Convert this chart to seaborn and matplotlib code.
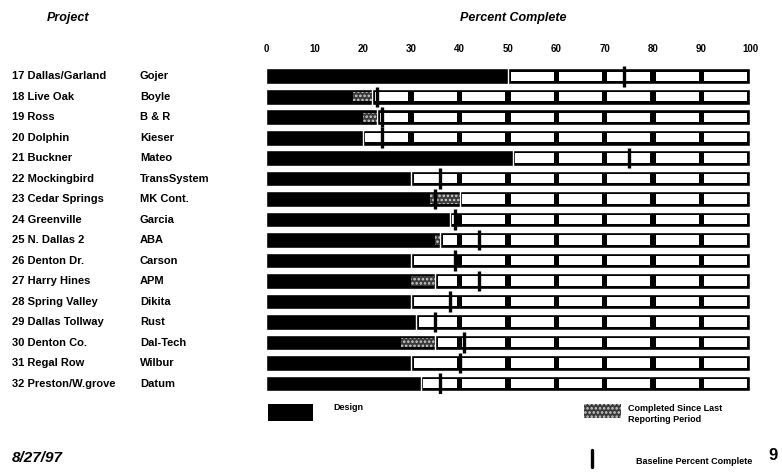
import matplotlib
matplotlib.use('Agg')
import matplotlib.pyplot as plt
import matplotlib.transforms as mtransforms
from matplotlib.patches import Rectangle
from matplotlib.lines import Line2D
import seaborn as sns
import pandas as pd

# data
projects = ['17 Dallas/Garland', '18 Live Oak', '19 Ross', '20 Dolphin', '21 Buckner',
            '22 Mockingbird', '23 Cedar Springs', '24 Greenville', '25 N. Dallas 2',
            '26 Denton Dr.', '27 Harry Hines', '28 Spring Valley', '29 Dallas Tollway',
            '30 Denton Co.', '31 Regal Row', '32 Preston/W.grove']
firms = ['Gojer', 'Boyle', 'B & R', 'Kieser', 'Mateo', 'TransSystem', 'MK Cont.', 'Garcia',
         'ABA', 'Carson', 'APM', 'Dikita', 'Rust', 'Dal-Tech', 'Wilbur', 'Datum']
design = [50, 22, 23, 20, 51, 30, 40, 38, 36, 30, 35, 30, 31, 35, 30, 32]
previous = [50, 18, 20, 20, 51, 30, 34, 38, 35, 30, 30, 30, 31, 28, 30, 32]
baseline = [74, 23, 24, 24, 75, 36, 35, 39, 44, 39, 44, 38, 35, 41, 40, 36]
ticks = [0, 10, 20, 30, 40, 50, 60, 70, 80, 90, 100]

sns.set_theme(style='white', rc={'text.color': 'black', 'xtick.color': 'black',
                                 'axes.labelcolor': 'black'})
plt.rcParams['font.family'] = ['Liberation Sans', 'DejaVu Sans']
plt.rcParams['hatch.linewidth'] = 1.2

df = pd.DataFrame({'Project': projects, 'Firm': firms, 'Design': design,
                   'Previous': previous, 'Baseline': baseline, 'Total': 100})

W, H = 782, 475
fig = plt.figure(figsize=(W / 100, H / 100), dpi=100)
ax = fig.add_axes([0.340, 0.171, 0.619, 0.690])

bar_h = 0.76
hatch_kw = dict(facecolor='#3a3a3a', hatch='....', edgecolor='#d0d0d0', linewidth=0)

# black frame for the full 100%, then the design progress
sns.barplot(data=df, x='Total', y='Project', color='black', width=bar_h,
            saturation=1, ax=ax)
sns.barplot(data=df, x='Design', y='Project', color='black', width=bar_h,
            saturation=1, ax=ax)

# white cells for the remaining decades
inset = 0.55
v_inset = 0.15
for i, row in df.iterrows():
    for lo, hi in zip(ticks[:-1], ticks[1:]):
        start = max(lo, row['Design'])
        if hi - start > 2 * inset + 0.3:
            ax.add_patch(Rectangle((start + inset, i - bar_h / 2 + v_inset),
                                   hi - start - 2 * inset, bar_h - 2 * v_inset,
                                   facecolor='white', edgecolor='none', zorder=3))

# completed since last reporting period
gain = df['Design'] - df['Previous']
ax.barh(df.index, gain, left=df['Previous'], height=bar_h - 2 * v_inset, zorder=4,
        **hatch_kw)

# baseline markers
ax.vlines(df['Baseline'], df.index - 0.5, df.index + 0.5, color='black', lw=2.4, zorder=5)

ax.set_xlim(0, 100)
ax.set_ylim(len(df) - 0.5, -0.5)
ax.set_yticks([])
ax.set_xlabel('')
ax.set_ylabel('')
ax.xaxis.tick_top()
ax.set_xticks(ticks)
ax.set_xticklabels(ticks, fontsize=7, fontweight='bold')
ax.tick_params(axis='x', length=0, pad=9)
for s in ax.spines.values():
    s.set_visible(False)

# project / firm columns
trans = mtransforms.blended_transform_factory(fig.transFigure, ax.transData)
for i, row in df.iterrows():
    ax.text(12 / W, i, row['Project'], transform=trans, va='center', fontsize=8,
            fontweight='bold')
    ax.text(140 / W, i, row['Firm'], transform=trans, va='center', fontsize=8,
            fontweight='bold')

fig.text(68 / W, 1 - 18 / H, 'Project', ha='center', va='center', fontsize=9,
         style='italic', fontweight='bold')
fig.text(513 / W, 1 - 18 / H, 'Percent Complete', ha='center', va='center',
         fontsize=9, style='italic', fontweight='bold')

# legend
fig.add_artist(Rectangle((268 / W, 1 - 421 / H), 45 / W, 17 / H,
                         transform=fig.transFigure, facecolor='black', edgecolor='none'))
fig.text(333 / W, 1 - 408 / H, 'Design', va='center', fontsize=6.5, fontweight='bold')
fig.add_artist(Rectangle((584 / W, 1 - 418 / H), 37 / W, 14 / H,
                         transform=fig.transFigure, **hatch_kw))
fig.text(628 / W, 1 - 414 / H, 'Completed Since Last\nReporting Period', va='center',
         fontsize=6.5, linespacing=1.15, fontweight='bold')
fig.add_artist(Line2D([592 / W, 592 / W], [1 - 450 / H, 1 - 467 / H],
                      transform=fig.transFigure, color='black', lw=2.4))
fig.text(636 / W, 1 - 461 / H, 'Baseline Percent Complete', va='center', fontsize=6.5,
         fontweight='bold')

fig.text(12 / W, 1 - 458 / H, '8/27/97', va='center', fontsize=11, style='italic',
         fontweight='bold')
fig.text(768 / W, 1 - 456 / H, '9', va='center', fontsize=12, fontweight='bold')

fig.savefig('out.png', dpi=100)
